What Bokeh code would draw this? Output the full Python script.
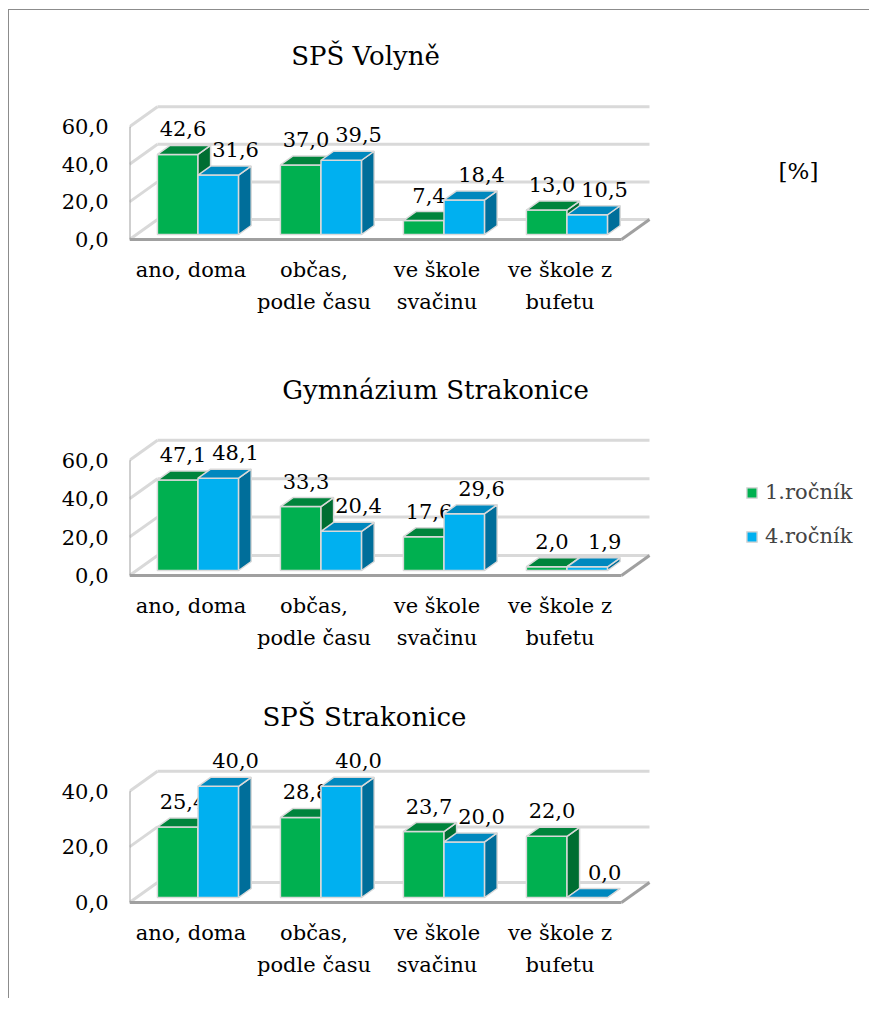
from bokeh.plotting import figure
from bokeh.models import FixedTicker, Label, Legend, LegendItem, ColumnDataSource
from bokeh.layouts import column
from bokeh.embed import file_html
from bokeh.resources import INLINE
from bokeh.core.properties import value

# ---------------- data ----------------
categories = ["ano, doma", "občas,\npodle času", "ve škole\nsvačinu", "ve škole z\nbufetu"]
series_names = ["1.ročník", "4.ročník"]
titles = ["SPŠ Volyně", "Gymnázium Strakonice", "SPŠ Strakonice"]

volyne_1 = [42.6, 37.0, 7.4, 13.0]
volyne_4 = [31.6, 39.5, 18.4, 10.5]
gym_1 = [47.1, 33.3, 17.6, 2.0]
gym_4 = [48.1, 20.4, 29.6, 1.9]
sps_1 = [25.4, 28.8, 23.7, 22.0]
sps_4 = [40.0, 40.0, 20.0, 0.0]

y_ticks_a = [0, 20, 40, 60]
y_ticks_b = [0, 20, 40]
unit_label = "[%]"

# ---------------- style ----------------
FONT_NAME = "DejaVu Serif"
FONT = value(FONT_NAME)
GREEN = ("#00B050", "#00843C", "#006E32")   # front, top, side
BLUE = ("#00B0F0", "#0088BE", "#006E9A")
EDGE = "#D9D9D9"
GRID = "#D9D9D9"
DARK = "#A0A0A0"

FIG_W = 860
LEFT = 120
BOTTOM = 92
PX_PER_CAT = 123.0
DEPTH_PX = (28.0, 20.0)
BAR_W = 0.33
BAR_OFF = 0.25
BAR_DEPTH = 0.45


def fmt(v):
    return f"{v:.1f}".replace(".", ",")


def make_panel(title, s1, s4, ticks, ppu, frame_h, title_xy, extra=None, legend=False):
    frame_w = FIG_W - LEFT
    x0 = -0.5
    x1 = x0 + frame_w / PX_PER_CAT
    y0 = -4.0 / ppu
    y1 = y0 + frame_h / ppu
    p = figure(width=FIG_W, height=frame_h + BOTTOM, x_range=(x0, x1), y_range=(y0, y1),
               output_backend="svg", toolbar_location=None,
               min_border_left=LEFT, min_border_right=0, min_border_top=0,
               min_border_bottom=BOTTOM)
    p.outline_line_color = None
    p.grid.visible = False
    p.background_fill_color = "white"
    p.border_fill_color = "white"

    DX = DEPTH_PX[0] / PX_PER_CAT
    DY = DEPTH_PX[1] / ppu
    top_tick = ticks[-1]
    right = len(categories) - 0.5

    # back wall gridlines and left wall diagonals
    p.multi_line(xs=[[x0 + DX, right + DX] for t in ticks],
                 ys=[[t + DY, t + DY] for t in ticks], line_color=GRID, line_width=3)
    p.multi_line(xs=[[x0, x0 + DX] for t in ticks],
                 ys=[[t, t + DY] for t in ticks], line_color=GRID, line_width=3)
    # floor and wall edges
    p.line([right, right + DX], [0, DY], line_color=DARK, line_width=3)
    p.line([x0, right], [0, 0], line_color=DARK, line_width=3)
    p.line([x0, x0], [0, top_tick], line_color=DARK, line_width=2)

    bx0 = BAR_OFF * DX
    by0 = BAR_OFF * DY
    bdx = BAR_DEPTH * DX
    bdy = BAR_DEPTH * DY

    rends = []
    for vals, shift, cols, lab_dx in ((s1, -BAR_W, GREEN, -1), (s4, 0.0, BLUE, 11)):
        fx, fy, tx, ty, sx, sy, lx, ly, lt = [], [], [], [], [], [], [], [], []
        for i, v in enumerate(vals):
            l = i + shift + bx0
            r = l + BAR_W
            b = by0
            t = by0 + v
            fx.append([l, r, r, l]); fy.append([b, b, t, t])
            tx.append([l, r, r + bdx, l + bdx]); ty.append([t, t, t + bdy, t + bdy])
            sx.append([r, r + bdx, r + bdx, r]); sy.append([b, b + bdy, t + bdy, t])
            lx.append(l + BAR_W / 2 + bdx / 2); ly.append(t + bdy); lt.append(fmt(v))
        rf = p.patches(fx, fy, fill_color=cols[0], line_color=EDGE, line_width=1.5)
        p.patches(sx, sy, fill_color=cols[2], line_color=EDGE, line_width=1.5)
        p.patches(tx, ty, fill_color=cols[1], line_color=EDGE, line_width=1.5)
        rends.append(rf)
        src = ColumnDataSource(dict(x=lx, y=ly, t=lt))
        p.text("x", "y", "t", source=src, text_font=FONT, text_font_size="21px",
               text_align="center", text_baseline="bottom", x_offset=lab_dx, y_offset=-9,
               text_color="black")

    # axes
    p.yaxis.ticker = FixedTicker(ticks=ticks)
    p.yaxis.major_label_overrides = {t: fmt(t) for t in ticks}
    p.yaxis.axis_line_color = None
    p.yaxis.major_tick_line_color = None
    p.yaxis.minor_tick_line_color = None
    p.yaxis.major_tick_out = 0
    p.yaxis.major_tick_in = 0
    p.yaxis.major_label_standoff = 21
    p.yaxis.major_label_text_font = FONT_NAME
    p.yaxis.major_label_text_font_size = "21px"
    p.yaxis.major_label_text_color = "black"

    p.xaxis.ticker = FixedTicker(ticks=list(range(len(categories))))
    p.xaxis.major_label_overrides = {i: c for i, c in enumerate(categories)}
    p.xaxis.axis_line_color = None
    p.xaxis.major_tick_line_color = None
    p.xaxis.minor_tick_line_color = None
    p.xaxis.major_tick_out = 0
    p.xaxis.major_tick_in = 0
    p.xaxis.major_label_standoff = 14
    p.xaxis.major_label_text_font = FONT_NAME
    p.xaxis.major_label_text_font_size = "21px"
    p.xaxis.major_label_text_line_height = 1.35
    p.xaxis.major_label_text_color = "black"

    p.add_layout(Label(x=title_xy[0], y=title_xy[1], x_units="screen", y_units="screen",
                       text=title, text_font=FONT_NAME, text_font_size="26px",
                       text_align="center", text_baseline="middle", text_color="black"))
    if extra is not None:
        p.add_layout(Label(x=extra[0], y=extra[1], x_units="screen", y_units="screen",
                           text=unit_label, text_font=FONT_NAME, text_font_size="23px",
                           text_align="center", text_baseline="middle", text_color="black"))
    if legend:
        lg = Legend(items=[LegendItem(label=series_names[0], renderers=[rends[0]]),
                           LegendItem(label=series_names[1], renderers=[rends[1]])],
                    location=(616, 31))
        lg.label_text_font = FONT_NAME
        lg.label_text_font_size = "21px"
        lg.glyph_width = 13
        lg.glyph_height = 13
        lg.spacing = 20
        lg.padding = 0
        lg.margin = 0
        lg.label_standoff = 7
        lg.border_line_color = None
        lg.background_fill_alpha = 0
        p.add_layout(lg)
    return p


p1 = make_panel(titles[0], volyne_1, volyne_4, y_ticks_a, 1.88, 233, (236, 188), extra=(669, 73))
p2 = make_panel(titles[1], gym_1, gym_4, y_ticks_a, 1.92, 244, (306, 190), legend=True)
p3 = make_panel(titles[2], sps_1, sps_4, y_ticks_b, 2.78, 235, (235, 190))

layout = column(p1, p2, p3, spacing=0, margin=(9, 0, 0, 8),
                styles={"border-left": "1px solid #8c8c8c", "border-top": "1px solid #8c8c8c"})

open("out.html", "w").write(file_html(layout, INLINE))
